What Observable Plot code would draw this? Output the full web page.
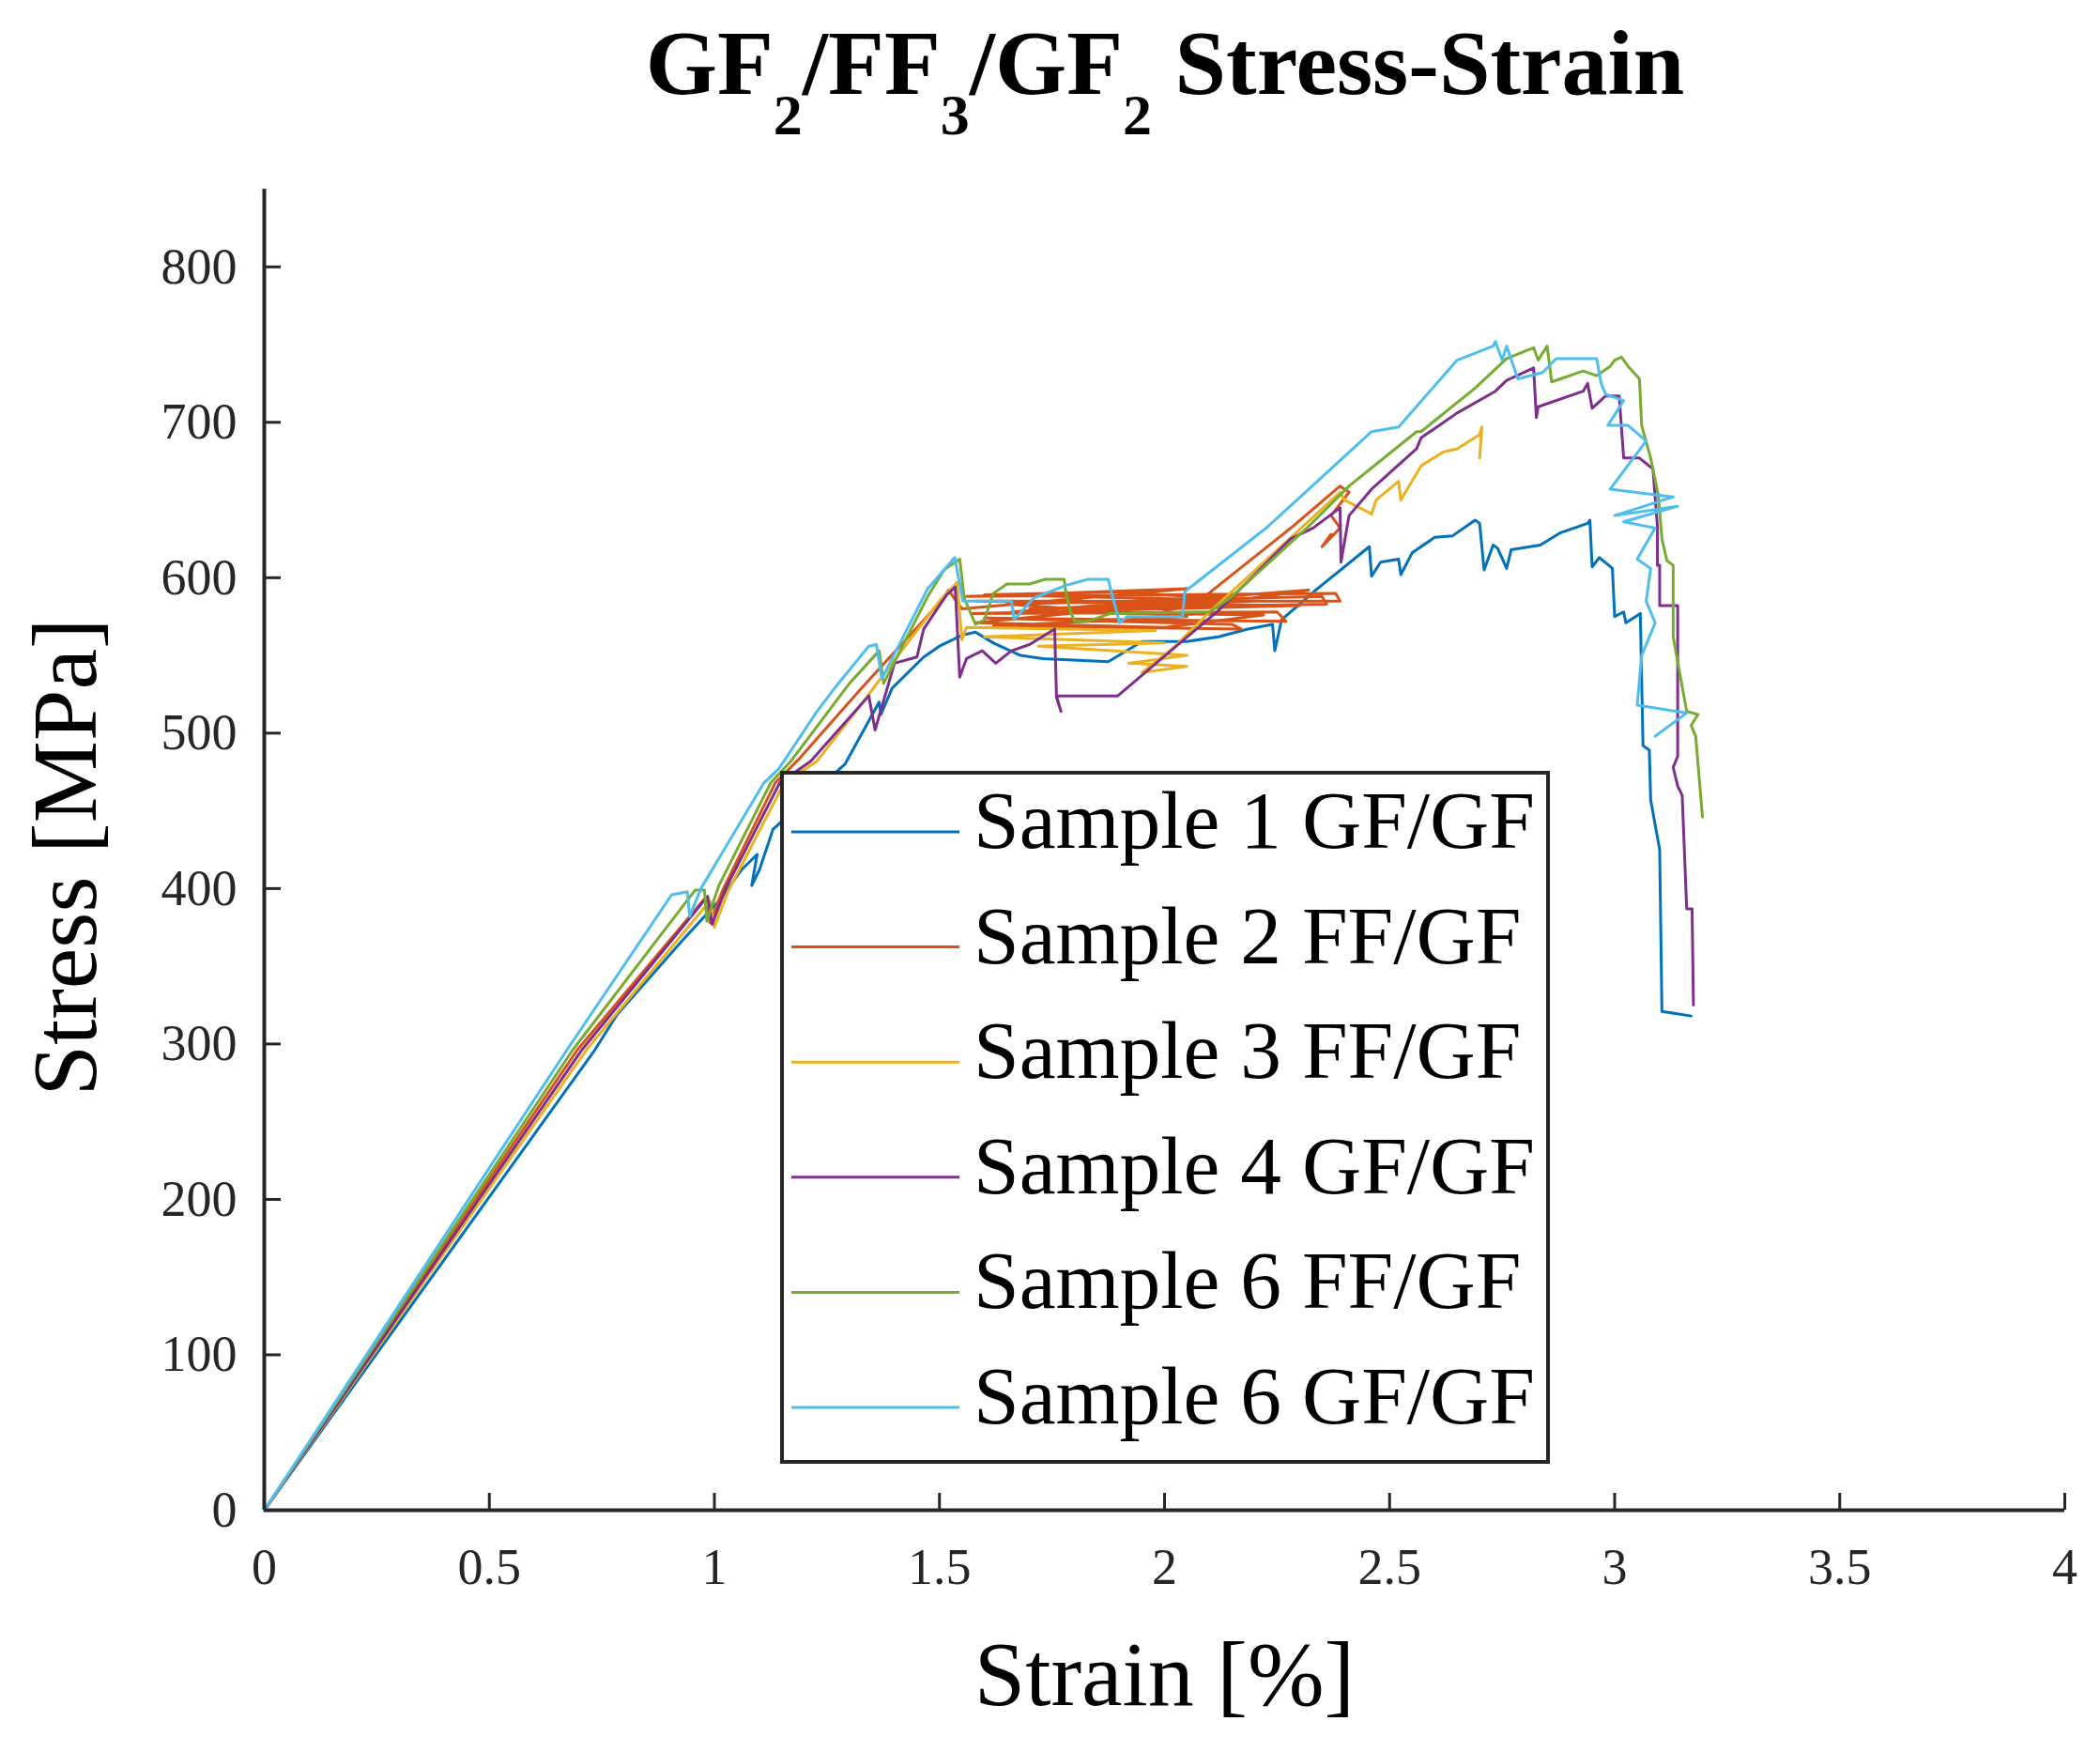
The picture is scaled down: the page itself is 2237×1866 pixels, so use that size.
<!DOCTYPE html>
<html><head><meta charset="utf-8">
<script src="https://cdn.jsdelivr.net/npm/d3@7"></script>
<script src="https://cdn.jsdelivr.net/npm/@observablehq/plot@0.6"></script>
<style>
body{margin:0;background:#fff;}
#wrap{position:relative;width:2237px;height:1866px;overflow:hidden;font-family:"Liberation Serif",serif;background:#fff;}
#title{position:absolute;left:0;top:0;}
#chart{position:absolute;left:0;top:190px;}
#legend{position:absolute;left:0;top:0;pointer-events:none;}
</style></head>
<body><div id="wrap"><svg id="title" width="2237" height="190"></svg><div id="chart"></div><svg id="legend" width="2237" height="1866"></svg></div>
<script>
const seriesNames = ["Sample 1 GF/GF","Sample 2 FF/GF","Sample 3 FF/GF","Sample 4 GF/GF","Sample 6 FF/GF","Sample 6 GF/GF"];
const seriesColors = ["#0072BD","#D95319","#EDB120","#7E2F8E","#77AC30","#4DBEEE"];
const xTicks = [0,0.5,1,1.5,2,2.5,3,3.5,4];
const yTicks = [0,100,200,300,400,500,600,700,800];

// [strain %, stress MPa]
const sample1 = [[0,0],[0.734,296],[0.784,319],[0.93,367],[1.013,393],[1.06,412],[1.095,422],[1.083,402],[1.10,412],[1.13,438],[1.29,480],[1.366,520],[1.37,512],[1.395,529],[1.465,549],[1.50,556],[1.55,563],[1.58,565],[1.62,558],[1.68,550],[1.73,548],[1.875,546],[1.95,559],[2.05,559],[2.12,562],[2.185,567],[2.24,570],[2.245,553],[2.26,573],[2.34,593],[2.455,620],[2.46,601],[2.48,610],[2.52,612],[2.525,602],[2.55,616],[2.60,626],[2.64,627],[2.69,637],[2.70,635],[2.71,605],[2.73,621],[2.74,619],[2.76,606],[2.77,618],[2.835,621],[2.88,629],[2.94,635],[2.945,637],[2.95,607],[2.966,613],[2.995,606],[3.0,575],[3.02,578],[3.025,571],[3.057,577],[3.063,492],[3.077,489],[3.08,457],[3.10,425],[3.105,321],[3.17,318]];
const sample2 = [[0,0],[0.695,296],[0.98,394],[0.99,378],[1.02,400],[1.135,468],[1.19,484],[1.33,530],[1.466,573],[1.51,587],[1.52,592],[1.55,580],[2.05,593],[1.56,588],[2.38,590],[2.39,585],[1.58,585],[2.30,582],[1.57,577],[2.25,578],[2.27,572],[1.60,574],[2.15,570],[2.17,567],[1.62,569],[2.05,575],[1.65,583],[2.35,588],[2.36,583],[1.70,580],[2.20,585],[1.90,591],[1.60,589],[2.10,586],[1.58,571],[2.00,568],[2.22,576],[1.66,578],[2.32,592],[2.00,579],[2.09,588],[2.285,633],[2.39,659],[2.41,655],[2.37,640],[2.39,632],[2.35,620],[2.37,628]];
const sample3 = [[0,0],[0.715,296],[0.99,392],[1.0,375],[1.03,398],[1.155,468],[1.228,482],[1.33,520],[1.416,553],[1.50,585],[1.539,597],[1.55,560],[1.56,568],[1.98,566],[1.60,562],[2.00,558],[1.72,556],[2.05,550],[1.92,545],[2.05,543],[1.95,539],[2.02,555],[2.10,578],[2.39,655],[2.40,650],[2.46,641],[2.47,650],[2.52,662],[2.525,650],[2.57,672],[2.62,681],[2.65,683],[2.70,692],[2.705,697],[2.70,677]];
const sample4 = [[0,0],[0.705,296],[0.985,395],[0.995,377],[1.025,400],[1.145,468],[1.214,482],[1.343,524],[1.357,502],[1.40,545],[1.45,549],[1.465,567],[1.516,589],[1.535,594],[1.545,536],[1.56,548],[1.595,553],[1.625,545],[1.66,553],[1.70,557],[1.756,567],[1.76,523],[1.77,514],[1.76,524],[1.896,524],[2.12,579],[2.28,625],[2.33,632],[2.39,645],[2.392,610],[2.41,640],[2.46,657],[2.56,683],[2.57,690],[2.65,706],[2.735,720],[2.76,727],[2.82,735],[2.826,703],[2.83,710],[2.93,720],[2.94,725],[2.95,709],[2.98,717],[3.01,717],[3.02,677],[3.055,677],[3.085,670],[3.095,633],[3.095,608],[3.10,608],[3.10,582],[3.14,582],[3.14,485],[3.13,478],[3.14,466],[3.15,460],[3.16,387],[3.172,387],[3.175,325]];
const sample5 = [[0,0],[0.685,296],[0.957,399],[0.978,399],[0.983,379],[1.01,402],[1.125,468],[1.17,482],[1.30,532],[1.366,553],[1.376,532],[1.474,588],[1.51,605],[1.545,612],[1.555,587],[1.58,570],[1.60,573],[1.62,590],[1.65,596],[1.70,596],[1.735,599],[1.777,599],[1.78,592],[1.79,579],[1.80,572],[1.83,572],[1.88,577],[2.10,578],[2.146,587],[2.32,633],[2.41,659],[2.56,694],[2.57,694],[2.69,722],[2.76,741],[2.82,748],[2.83,740],[2.85,749],[2.86,726],[2.93,733],[2.96,730],[2.99,736],[3.0,740],[3.015,742],[3.03,736],[3.055,728],[3.06,698],[3.08,677],[3.097,653],[3.105,625],[3.116,611],[3.13,608],[3.13,562],[3.16,514],[3.185,512],[3.17,505],[3.18,498],[3.195,446]];
const sample6 = [[0,0],[0.672,296],[0.905,396],[0.94,398],[0.945,382],[0.97,400],[1.11,468],[1.143,477],[1.228,514],[1.27,530],[1.343,556],[1.36,557],[1.372,535],[1.474,593],[1.534,613],[1.552,585],[1.66,585],[1.666,573],[1.71,587],[1.78,595],[1.83,599],[1.875,599],[1.88,593],[1.90,571],[1.917,575],[2.04,575],[2.045,591],[2.23,633],[2.46,694],[2.52,697],[2.65,740],[2.73,749],[2.735,752],[2.75,740],[2.76,749],[2.785,728],[2.84,732],[2.87,741],[2.96,741],[2.97,725],[2.98,718],[3.02,714],[2.985,698],[3.03,698],[3.07,688],[2.99,657],[3.13,652],[3.0,640],[3.14,646],[3.02,636],[3.09,632],[3.05,612],[3.08,606],[3.07,585],[3.09,571],[3.06,550],[3.05,518],[3.16,513],[3.09,498]];

const allSamples = [sample1,sample2,sample3,sample4,sample5,sample6];
const rows = [];
allSamples.forEach((s, k) => s.forEach(([strain, stress]) => rows.push({series: seriesNames[k], strain, stress})));

const chart = Plot.plot({
  width: 2237, height: 1676,
  marginLeft: 281, marginRight: 38, marginTop: 11, marginBottom: 258,
  style: {fontFamily: "'Liberation Serif', serif", fontSize: "54px", color: "#262626", background: "white"},
  x: {domain: [0, 4]},
  y: {domain: [0, 850]},
  color: {domain: seriesNames, range: seriesColors},
  marks: [
    Plot.line(rows, {x: "strain", y: "stress", z: "series", stroke: "series", strokeWidth: 3}),
    Plot.ruleX([0], {stroke: "#262626", strokeWidth: 4}),
    Plot.ruleY([0], {stroke: "#262626", strokeWidth: 4}),
    Plot.axisX(xTicks, {tickSize: -18, tickFormat: () => "", label: null, stroke: "#262626", strokeWidth: 3}),
    Plot.axisX(xTicks, {tickSize: 0, tickPadding: 40, tickFormat: d => String(d), label: null, fontSize: 54, fill: "#262626"}),
    Plot.axisY(yTicks, {tickSize: -18, tickFormat: () => "", label: null, stroke: "#262626", strokeWidth: 3}),
    Plot.axisY(yTicks, {tickSize: 0, tickPadding: 29, tickFormat: d => String(d), label: null, fontSize: 54, fill: "#262626"}),
    Plot.text(["Strain [%]"], {text: d => d, frameAnchor: "bottom", dy: 176, lineAnchor: "middle", textAnchor: "middle", fontSize: 98, fill: "#000"}),
    Plot.text(["Stress [MPa]"], {text: d => d, frameAnchor: "left", dx: -211, dy: 8, rotate: -90, lineAnchor: "middle", textAnchor: "middle", fontSize: 98, fill: "#000"})
  ]
});
document.getElementById("chart").appendChild(chart);

// Title
const title = d3.select("#title");
const t = title.append("text").attr("x", 1241).attr("y", 100).attr("text-anchor", "middle")
  .attr("font-family", "'Liberation Serif', serif").attr("font-weight", "bold").attr("font-size", 98).attr("fill", "#000");
const parts = [["GF",0],["2",1],["/FF",0],["3",1],["/GF",0],["2",1],[" Stress-Strain",0]];
let prevSub = 0;
parts.forEach(([s, sub]) => {
  const dy = (sub - prevSub) * 43;
  t.append("tspan").attr("dy", dy).attr("font-size", sub ? 62 : 98).text(s);
  prevSub = sub;
});

// Legend
const lg = d3.select("#legend");
lg.append("rect").attr("x", 833).attr("y", 823).attr("width", 816).attr("height", 734)
  .attr("fill", "#fff").attr("stroke", "#262626").attr("stroke-width", 4);
seriesNames.forEach((name, i) => {
  const y = 886 + i * 122.6;
  lg.append("line").attr("x1", 843).attr("x2", 1022).attr("y1", y).attr("y2", y)
    .attr("stroke", seriesColors[i]).attr("stroke-width", 3);
  lg.append("text").attr("x", 1037).attr("y", y + 17).attr("font-family", "'Liberation Serif', serif")
    .attr("font-size", 87.5).attr("fill", "#000").text(name);
});
</script></body></html>
